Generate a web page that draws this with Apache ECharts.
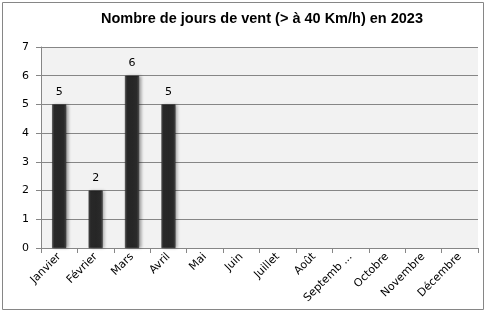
<!DOCTYPE html>
<html>
<head>
<meta charset="utf-8">
<script src="https://cdn.jsdelivr.net/npm/echarts@6/dist/echarts.min.js"></script>
<style>
  html, body { margin: 0; padding: 0; background: #fff; }
  #chart { width: 486px; height: 313px; }
</style>
</head>
<body>
<div id="chart"></div>
<script>
// données du graphique
const mois = ['Janvier', 'Février', 'Mars', 'Avril', 'Mai', 'Juin', 'Juillet', 'Août',
  'Septembre', 'Octobre', 'Novembre', 'Décembre'];
const joursVent = [5, 2, 6, 5, null, null, null, null, null, null, null, null];
const yTicks = [0, 1, 2, 3, 4, 5, 6, 7];

const chart = echarts.init(document.getElementById('chart'));

const option = {
  animation: false,
  backgroundColor: '#fff',
  title: {
    text: 'Nombre de jours de vent (> à 40 Km/h) en 2023',
    left: 257,
    textAlign: 'center',
    top: 6,
    textStyle: { fontFamily: 'Liberation Sans', fontWeight: 'bold', fontSize: 14.5, color: '#000' }
  },
  graphic: [
    {
      type: 'rect',
      shape: { x: 2.5, y: 2.5, width: 481, height: 307 },
      style: { fill: 'none', stroke: '#868686', lineWidth: 1 },
      z: 100
    }
  ],
  grid: {
    left: 41, right: 8, top: 47, bottom: 65,
    show: true,
    backgroundColor: '#f2f2f2',
    borderWidth: 0
  },
  xAxis: {
    type: 'category',
    data: mois,
    axisLine: { show: true, lineStyle: { color: '#868686' } },
    axisTick: { show: true, length: 5, lineStyle: { color: '#868686' } },
    axisLabel: {
      rotate: 45,
      interval: 0,
      margin: 7,
      fontFamily: 'DejaVu Sans',
      fontSize: 11,
      color: '#000',
      // comme Excel, le libellé trop long est coupé
      formatter: v => (v.length > 8 ? v.slice(0, 7) + ' ...' : v)
    }
  },
  yAxis: {
    type: 'value',
    min: yTicks[0],
    max: yTicks[yTicks.length - 1],
    interval: 1,
    axisLine: { show: true, lineStyle: { color: '#868686' } },
    axisTick: { show: true, length: 5, lineStyle: { color: '#868686' } },
    axisLabel: { fontFamily: 'DejaVu Sans', fontSize: 11, color: '#000', margin: 12 },
    splitLine: { lineStyle: { color: '#868686', width: 1 } }
  },
  series: [
    {
      type: 'bar',
      data: joursVent,
      barWidth: 14,
      itemStyle: {
        color: {
          type: 'linear', x: 0, y: 0, x2: 1, y2: 0,
          colorStops: [
            { offset: 0, color: '#555' },
            { offset: 0.15, color: '#2a2a2a' },
            { offset: 0.5, color: '#262626' },
            { offset: 0.85, color: '#2a2a2a' },
            { offset: 1, color: '#555' }
          ]
        },
        borderColor: '#1a1a1a',
        borderWidth: 0.5,
        shadowColor: 'rgba(0,0,0,0.35)',
        shadowBlur: 3,
        shadowOffsetX: 2,
        shadowOffsetY: 0
      },
      label: {
        show: true,
        position: 'top',
        distance: 7,
        fontFamily: 'DejaVu Sans',
        fontSize: 11,
        color: '#000'
      }
    }
  ]
};

chart.setOption(option);
</script>
</body>
</html>
